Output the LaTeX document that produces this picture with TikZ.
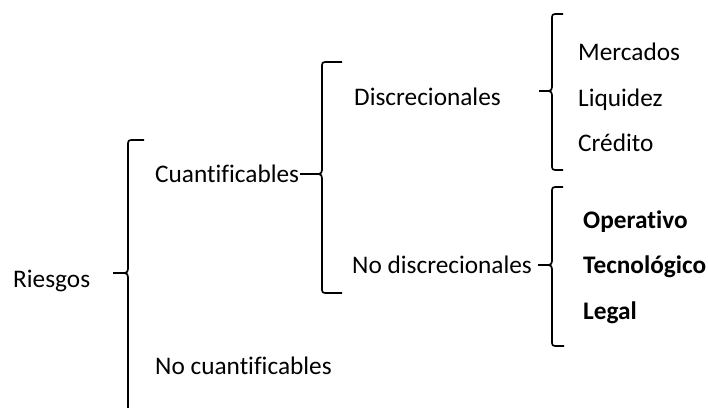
\documentclass[tikz,border=0pt]{standalone}
\usepackage{fontspec}
\setmainfont{Carlito}[Ligatures={NoCommon}]
\begin{document}
\begin{tikzpicture}[x=1pt,y=-1pt,
  lbl/.style={anchor=base west,inner sep=0pt,font=\fontsize{25.3}{30}\selectfont},
  blbl/.style={lbl,font=\fontsize{25.3}{30}\selectfont\bfseries},
  br/.style={line width=1.7pt,line cap=butt,line join=round}]
\useasboundingbox[fill=white] (0,0) rectangle (708,407);
% texts
\node[lbl] (riesgos) at (13,287) {Riesgos};
\node[lbl] (cuant) at (155,182) {Cuantificables};
\node[lbl] (nocuant) at (155,374) {No cuantificables};
\node[lbl] (disc) at (354,105) {Discrecionales};
\node[lbl] (nodisc) at (352,273) {No discrecionales};
\node[lbl] (merc) at (578,60) {Mercados};
\node[lbl] (liq) at (578,106) {Liquidez};
\node[lbl] (cred) at (578,151) {Crédito};
\node[blbl] (oper) at (583,228) {Operativo};
\node[blbl] (tecn) at (583,273) {Tecnológico};
\node[blbl] (legal) at (583,319) {Legal};
% brace coordinates
\coordinate (b1tip) at (113,273);
\coordinate (b2tip) at (312,174);
\coordinate (b3tip) at (539,91);
\coordinate (b4tip) at (538,265);
% brace 1 (Riesgos), bottom cropped by the page edge
\draw[br] (144,140) -- (131,140) .. controls (129,140) and (128,141) .. (128,143)
  -- (128,269) .. controls (128,271) and (127,273) .. (125,273) -- (b1tip);
\draw[br] (125,273) .. controls (127,273) and (128,275) .. (128,277) -- (128,410);
% brace 2 (Cuantificables)
\draw[br] (342,62) -- (325,62) .. controls (323,62) and (322,63) .. (322,65)
  -- (322,170) .. controls (322,172) and (321,174) .. (319,174) -- (b2tip);
\draw[br] (319,174) .. controls (321,174) and (322,176) .. (322,178)
  -- (322,290) .. controls (322,292) and (323,293) .. (325,293) -- (342,293);
\draw[br] (cuant.east |- b2tip) ++(1,0) -- (b2tip);
% brace 3 (Discrecionales)
\draw[br] (563,14) -- (555,14) .. controls (553,14) and (552,15) .. (552,17)
  -- (552,87) .. controls (552,89) and (551,91) .. (549,91) -- (b3tip);
\draw[br] (549,91) .. controls (551,91) and (552,93) .. (552,95)
  -- (552,167) .. controls (552,169) and (553,170) .. (555,170) -- (563,170);
% brace 4 (No discrecionales)
\draw[br] (563,187) -- (555,187) .. controls (553,187) and (552,188) .. (552,190)
  -- (552,261) .. controls (552,263) and (551,265) .. (549,265) -- (b4tip);
\draw[br] (549,265) .. controls (551,265) and (552,267) .. (552,269)
  -- (552,343) .. controls (552,345) and (553,346) .. (555,346) -- (564,346);
\end{tikzpicture}
\end{document}
